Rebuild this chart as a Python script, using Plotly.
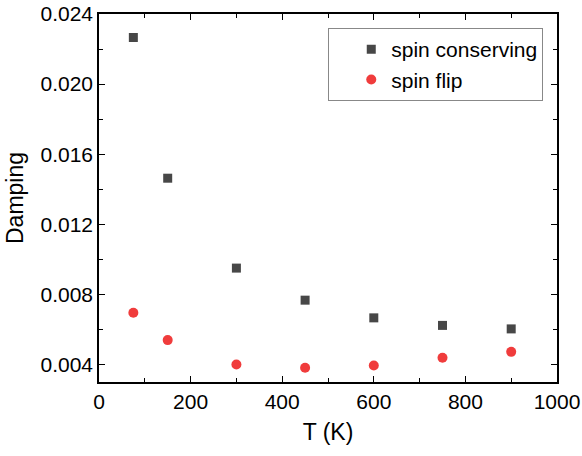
import plotly.graph_objects as go

T = [75, 150, 300, 450, 600, 750, 900]
spin_conserving = [0.02266, 0.01463, 0.0095, 0.00767, 0.00666, 0.00623, 0.00603]
spin_flip = [0.00695, 0.00539, 0.0040, 0.00381, 0.00394, 0.00438, 0.00472]
x_ticks = [0, 200, 400, 600, 800, 1000]
y_ticks = [0.004, 0.008, 0.012, 0.016, 0.020, 0.024]
y_labels = ["0.004", "0.008", "0.012", "0.016", "0.020", "0.024"]

fig = go.Figure()
fig.add_trace(go.Scatter(x=T, y=spin_conserving, mode="markers", name="spin conserving",
                         marker=dict(symbol="square", size=9, color="#474747")))
fig.add_trace(go.Scatter(x=T, y=spin_flip, mode="markers", name="spin flip",
                         marker=dict(symbol="circle", size=10, color="#f03c3c")))

font = "Liberation Sans, Arial, sans-serif"
axis_common = dict(showline=True, linecolor="black", linewidth=1.5, mirror="allticks",
                   ticks="inside", ticklen=6, tickwidth=1.2, tickcolor="black",
                   showgrid=False, zeroline=False, automargin=False,
                   tickfont=dict(family=font, size=21, color="black"),
                   minor=dict(ticks="inside", ticklen=4, tickwidth=1.2, tickcolor="black", showgrid=False))

fig.update_xaxes(range=[0, 1000], tickvals=x_ticks,
                 minor_dtick=100,
                 title=dict(text="T (K)", font=dict(family=font, size=23, color="black"), standoff=12),
                 **axis_common)
fig.update_yaxes(range=[0.003, 0.024], tickvals=y_ticks, ticktext=y_labels,
                 minor_dtick=0.002, minor_tick0=0.002,
                 title=dict(text="Damping", font=dict(family=font, size=23, color="black"), standoff=10),
                 **axis_common)

fig.update_layout(
    width=582, height=456,
    margin=dict(l=99, r=25, t=14, b=74),
    plot_bgcolor="white", paper_bgcolor="white",
    showlegend=True,
    legend=dict(x=0.97, y=0.962, xanchor="right", yanchor="top",
                bordercolor="#888888", borderwidth=1, bgcolor="white",
                font=dict(family=font, size=21, color="black"),
                indentation=22, tracegroupgap=0),
)

fig.write_html("out.html")
